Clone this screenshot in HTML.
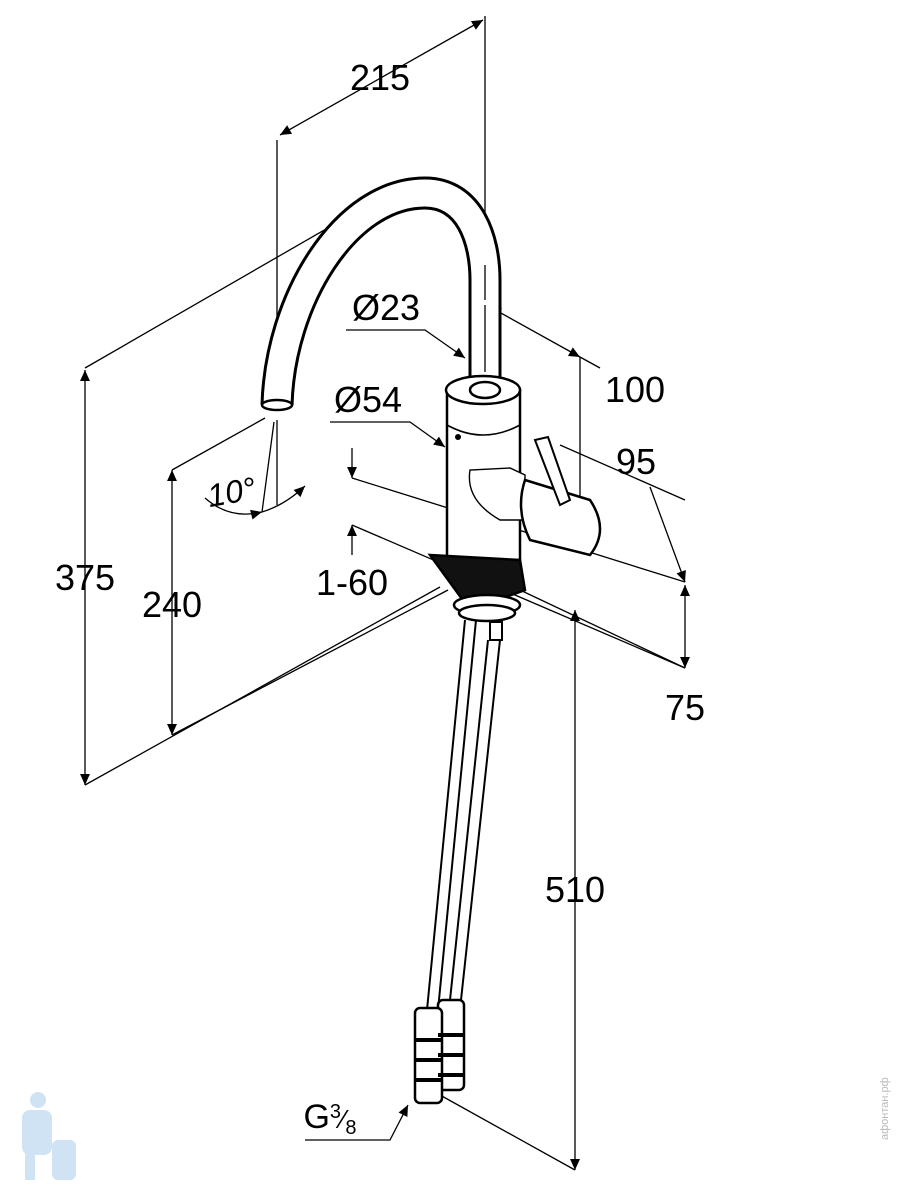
<!DOCTYPE html>
<html><head><style>html,body{margin:0;padding:0;background:#fff}svg{display:block}</style></head><body>
<svg width="900" height="1200" viewBox="0 0 900 1200" xmlns="http://www.w3.org/2000/svg" font-family="Liberation Sans, sans-serif">
<defs>
<marker id="a" viewBox="0 0 10 10" refX="10" refY="5" markerWidth="22" markerHeight="11" orient="auto-start-reverse" markerUnits="userSpaceOnUse"><path d="M0,0.5 L10,5 L0,9.5 z" fill="#000"/></marker>
</defs>
<g stroke="#000" stroke-width="1.3" fill="none">
<line x1="280" y1="135" x2="483" y2="20" marker-start="url(#a)" marker-end="url(#a)"/>
<line x1="277" y1="140" x2="277" y2="400"/>
<line x1="485" y1="16" x2="485" y2="265"/>
<line x1="85" y1="370" x2="85" y2="785" marker-start="url(#a)" marker-end="url(#a)"/>
<line x1="85" y1="368" x2="385" y2="195"/>
<line x1="85" y1="785" x2="440" y2="587"/>
<line x1="172" y1="470" x2="172" y2="735" marker-start="url(#a)" marker-end="url(#a)"/>
<line x1="172" y1="470" x2="265" y2="418"/>
<line x1="172" y1="735" x2="448" y2="590"/>
<line x1="352" y1="448" x2="352" y2="478" marker-end="url(#a)"/>
<line x1="352" y1="555" x2="352" y2="525" marker-end="url(#a)"/>
<line x1="352" y1="478" x2="685" y2="582"/>
<line x1="352" y1="525" x2="685" y2="668"/>
<line x1="650" y1="487" x2="685" y2="582" marker-end="url(#a)"/>
<line x1="560" y1="445" x2="685" y2="500"/>
<line x1="685" y1="585" x2="685" y2="668" marker-start="url(#a)" marker-end="url(#a)"/>
<line x1="490" y1="307" x2="580" y2="357" marker-start="url(#a)" marker-end="url(#a)"/>
<line x1="580" y1="357" x2="600" y2="368"/>
<line x1="580" y1="357" x2="580" y2="520"/>
<polyline points="346,330 425,330 465,358" marker-end="url(#a)"/>
<polyline points="330,422 410,422 445,447" marker-end="url(#a)"/>
<line x1="277" y1="420" x2="277" y2="505"/>
<line x1="274" y1="422" x2="262" y2="512"/>
<path d="M205,498 Q230,520 262,512" marker-end="url(#a)"/>
<path d="M262,512 Q285,505 305,486" marker-end="url(#a)"/>
<line x1="575" y1="610" x2="575" y2="1170" marker-start="url(#a)" marker-end="url(#a)"/>
<line x1="440" y1="1095" x2="575" y2="1170"/>
<line x1="520" y1="590" x2="685" y2="668"/>
<polyline points="305,1140 390,1140 408,1105" marker-end="url(#a)"/>
</g>
<path d="M277,405 C280,300 345,193 425,193 C470,193 485,240 485,280 L485,392" stroke="#000" stroke-width="33" fill="none"/>
<path d="M277,405 C280,300 345,193 425,193 C470,193 485,240 485,280 L485,392" stroke="#fff" stroke-width="27" fill="none"/>
<ellipse cx="277" cy="405" rx="15" ry="5" fill="#fff" stroke="#000" stroke-width="2.5"/>
<line x1="485" y1="265" x2="485" y2="300" stroke="#000" stroke-width="1.3"/>
<line x1="485" y1="305" x2="485" y2="372" stroke="#000" stroke-width="1.3"/>
<g stroke="#000" stroke-width="2.5" fill="#fff">
<path d="M447,390 L447,560 Q483,575 520,560 L520,390 Z"/>
<ellipse cx="483" cy="390" rx="37" ry="14"/>
<ellipse cx="485" cy="390" rx="15" ry="8"/>
<path d="M447,425 Q483,445 520,425" fill="none" stroke-width="1.6"/>
<path d="M470,470 Q465,500 500,520 L525,520 L525,475 L510,468 Z" stroke-width="1.4"/>
<path d="M525,480 L590,500 Q610,530 590,555 L530,540 Q515,510 525,480 Z"/>
<path d="M535,440 L560,505 L570,500 L548,437 Z" stroke-width="2"/>
<path d="M430,555 L520,560 L525,590 L470,610 Z" fill="#111"/>
<ellipse cx="487" cy="605" rx="33" ry="10"/>
<ellipse cx="487" cy="613" rx="28" ry="8"/>
</g>
<circle cx="458" cy="437" r="3" fill="#000"/>
<g stroke="#000" stroke-width="2" fill="none">
<line x1="465" y1="620" x2="427" y2="1010"/><line x1="476" y1="620" x2="438" y2="1010"/>
<line x1="488" y1="640" x2="450" y2="1000"/><line x1="500" y1="640" x2="461" y2="1000"/>
<rect x="490" y="622" width="12" height="18"/>
</g>
<g stroke="#000" stroke-width="2.5" fill="#fff">
<rect x="438" y="1000" width="26" height="90" rx="5"/>
<rect x="415" y="1008" width="27" height="95" rx="5"/>
</g>
<g stroke="#000" stroke-width="4">
<line x1="415" y1="1040" x2="442" y2="1040"/><line x1="415" y1="1060" x2="442" y2="1060"/><line x1="415" y1="1080" x2="442" y2="1080"/>
<line x1="438" y1="1035" x2="464" y2="1035"/><line x1="438" y1="1055" x2="464" y2="1055"/><line x1="438" y1="1075" x2="464" y2="1075"/>
</g>
<g font-size="36" fill="#000" text-anchor="middle">
<text x="380" y="90">215</text>
<text x="386" y="320">Ø23</text>
<text x="368" y="412">Ø54</text>
<text x="635" y="402">100</text>
<text x="636" y="474">95</text>
<text x="85" y="590">375</text>
<text x="172" y="617">240</text>
<text x="352" y="595">1-60</text>
<text x="685" y="720">75</text>
<text x="575" y="902">510</text>
<text x="232" y="503" font-style="italic" font-size="32" transform="rotate(-10 232 495)">10°</text>
<text x="330" y="1128" font-size="34">G<tspan font-size="20" dy="-10">3</tspan><tspan font-size="26" dy="10">⁄</tspan><tspan font-size="20" dy="6">8</tspan></text>
</g>
<g fill="#cfe3f5">
<circle cx="38" cy="1100" r="8"/><rect x="22" y="1110" width="30" height="45" rx="8"/><rect x="25" y="1150" width="10" height="30"/>
<rect x="52" y="1140" width="24" height="40" rx="6"/>
</g>
<text x="888" y="1140" font-size="11" fill="#bbb" transform="rotate(-90 888 1140)">афонтан.рф</text>
</svg>
</body></html>
